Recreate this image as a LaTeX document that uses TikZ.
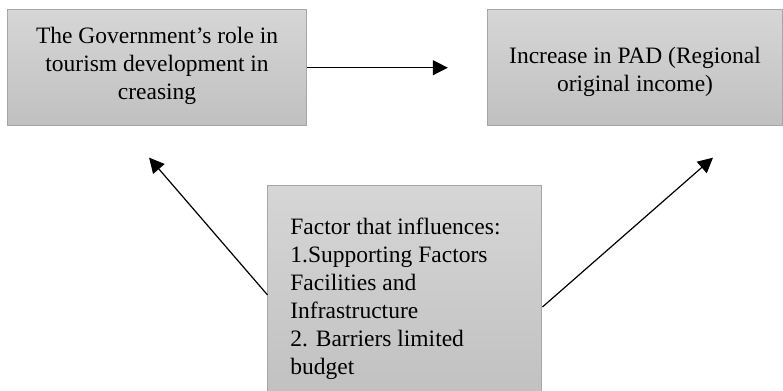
\documentclass[tikz,border=0pt]{standalone}
\usepackage{fontspec}
\setmainfont{Liberation Serif}
\usepackage{tikz}
\usetikzlibrary{arrows.meta, positioning, calc}
\definecolor{boxgrey}{RGB}{166,166,166}
\definecolor{shadetop}{RGB}{214,214,214}
\definecolor{shadebottom}{RGB}{192,192,192}

\tikzset{
    greybox/.style={rectangle,draw=boxgrey,line width=0.5pt,top color=shadetop,bottom color=shadebottom},
    flow/.style={-{Triangle[length=7.5pt,width=7.5pt]},line width=0.6pt},
    boxtext/.style={font=\fontsize{11.75pt}{14pt}\selectfont,inner sep=0pt}
}

\begin{document}
\begin{tikzpicture}
    \useasboundingbox (0,0) rectangle (13.76,6.87);
    \clip (0,0) rectangle (13.76,6.87);

    % Ruolo del governo
    \node[greybox,minimum width=5.27cm,minimum height=2.04cm] (gov) at (2.76,5.68) {};
    \node[boxtext,align=center] (govtext) at (2.76,5.71) {The Government's role in\\tourism development in\\creasing};

    % Aumento del PAD
    \node[greybox,minimum width=5.17cm,minimum height=2.04cm] (pad) at (11.16,5.68) {};
    \node[boxtext,align=center] (padtext) at (11.16,5.61) {Increase in PAD (Regional\\original income)};

    % Fattori
    \node[greybox,minimum width=4.815cm,minimum height=3.83cm] (factor) at (7.117,1.687) {};
    \node[boxtext,align=left,anchor=north west] (factortext) at (5.096,3.04) {Factor that influences:\\1.Supporting Factors\\Facilities and\\Infrastructure\\2. Barriers limited\\budget};

    % Frecce
    \coordinate (padtip) at (7.87,5.68);
    \coordinate (govtip) at (2.62,4.10);
    \coordinate (incometip) at (12.53,4.10);
    \draw[flow] (gov.east) -- (padtip);
    \draw[flow] (factor.west) -- (govtip);
    \draw[flow] (factor.-5) -- (incometip);
\end{tikzpicture}
\end{document}
